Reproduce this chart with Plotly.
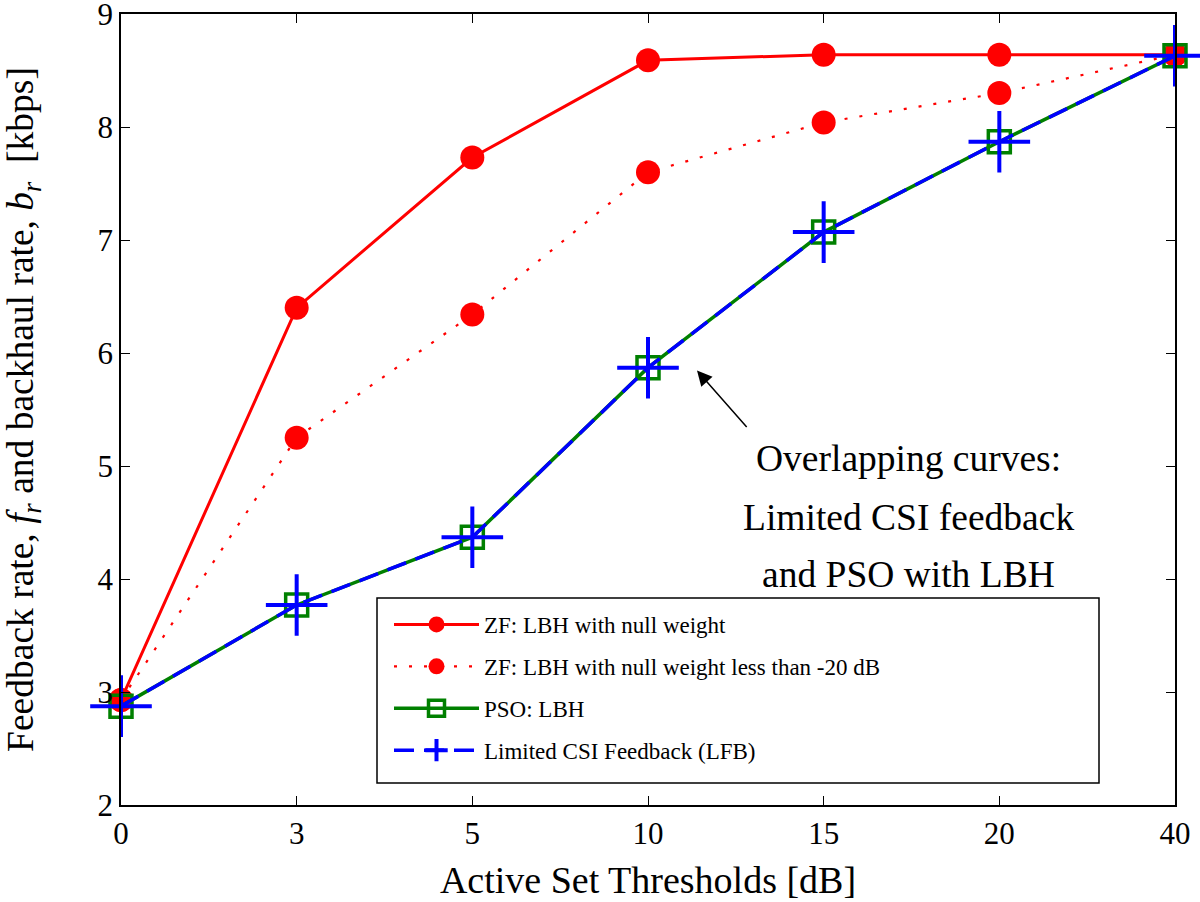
import plotly.graph_objects as go

thresholds = ["0", "3", "5", "10", "15", "20", "40"]
zf_null = [2.93, 6.40, 7.73, 8.59, 8.64, 8.64, 8.64]
zf_null_20db = [2.93, 5.25, 6.34, 7.60, 8.04, 8.30, 8.64]
pso_lbh = [2.875, 3.77, 4.37, 5.87, 7.07, 7.87, 8.63]
lfb = [2.875, 3.77, 4.37, 5.87, 7.07, 7.87, 8.63]
note_lines = ["Overlapping curves:", "Limited CSI feedback", "and PSO with LBH"]

FONT = "Liberation Serif"
L, R, T, B = 121, 1175, 14, 805
PW, PH = R - L, B - T

fig = go.Figure()
fig.add_trace(go.Scatter(x=thresholds, y=zf_null, mode="lines+markers",
    name="ZF: LBH with null weight", legendgroup="a",
    line=dict(color="#ff0000", width=3),
    marker=dict(symbol="circle", size=24, color="#ff0000"), cliponaxis=False))
fig.add_trace(go.Scatter(x=thresholds, y=zf_null_20db, mode="lines+markers",
    name="ZF: LBH with null weight less than -20 dB", legendgroup="b",
    line=dict(color="#ff0000", width=2.2, dash="3px,12px"),
    marker=dict(symbol="circle", size=24, color="#ff0000"), cliponaxis=False))
fig.add_trace(go.Scatter(x=thresholds, y=pso_lbh, mode="lines+markers",
    name="PSO: LBH", legendgroup="c",
    line=dict(color="#008000", width=3.5),
    marker=dict(symbol="square-open", size=22, color="#008000", line=dict(width=3.5)), cliponaxis=False))
fig.add_trace(go.Scatter(x=thresholds, y=lfb, mode="lines+markers",
    name="Limited CSI Feedback (LFB)", legendgroup="d",
    line=dict(color="#0000ff", width=3.5, dash="20px,10px"),
    marker=dict(symbol="cross-thin", size=44, color="#0000ff", line=dict(width=4, color="#0000ff")), cliponaxis=False))

fig.add_annotation(x=3.279, y=5.845, xref="x", yref="y", ax=51, ay=58,
    showarrow=True, arrowhead=2, arrowsize=2, arrowwidth=1.5, arrowcolor="black", text="")
for line_text, ypix in zip(note_lines, [459, 517, 574]):
    fig.add_annotation(x=(908 - L) / PW, y=(B - ypix) / PH, xref="paper", yref="paper",
        text=line_text, showarrow=False, xanchor="center", yanchor="middle",
        font=dict(family=FONT, size=37.5, color="black"))

# legend frame
fig.add_shape(type="rect", xref="paper", yref="paper",
    x0=(377 - L) / PW, x1=(1099 - L) / PW, y0=(B - 783) / PH, y1=(B - 598) / PH,
    line=dict(color="black", width=1.5), layer="above")

fig.update_layout(
    width=1200, height=902,
    margin=dict(l=L, r=1200 - R, t=T, b=902 - B),
    plot_bgcolor="white", paper_bgcolor="white",
    font=dict(family=FONT, size=31, color="black"),
    showlegend=True,
    legend=dict(x=(389 - L) / PW, y=(B - 603) / PH, xanchor="left", yanchor="top",
                borderwidth=0, bgcolor="rgba(0,0,0,0)",
                font=dict(family=FONT, size=23), itemwidth=85, tracegroupgap=9),
    xaxis=dict(type="category", range=[0, 6], showline=True, linecolor="black", linewidth=1.5,
               mirror="ticks", ticks="inside", ticklen=9, tickcolor="black", showgrid=False,
               zeroline=False, tickfont=dict(size=31), automargin=False,
               title=dict(text="Active Set Thresholds [dB]", font=dict(size=38), standoff=16)),
    yaxis=dict(range=[2, 9], dtick=1, showline=True, linecolor="black", linewidth=1.5,
               mirror="ticks", ticks="inside", ticklen=9, tickcolor="black", showgrid=False,
               zeroline=False, tickfont=dict(size=31), ticklabeloverflow="allow", automargin=False,
               title=dict(text="Feedback rate, <i>f<sub>r</sub></i> and backhaul rate, <i>b<sub>r</sub></i>  [kbps]",
                          font=dict(size=37.5), standoff=60)),
)
fig.write_html("out.html", config={"displayModeBar": False},
               post_script="document.body.style.margin='0px';")
